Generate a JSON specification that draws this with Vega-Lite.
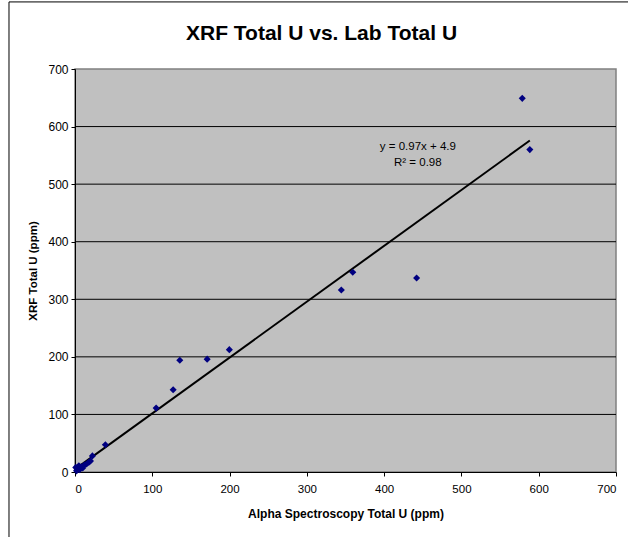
{
  "$schema": "https://vega.github.io/schema/vega-lite/v6.json",
  "width": 541,
  "height": 403,
  "autosize": "none",
  "padding": {"left": 75, "top": 69, "right": 12, "bottom": 65},
  "background": "white",
  "title": {
    "text": "XRF Total U vs. Lab Total U",
    "font": "Liberation Sans",
    "fontSize": 21,
    "fontWeight": "bold",
    "color": "black",
    "anchor": "middle",
    "dx": -24,
    "offset": -43
  },
  "config": {
    "view": {"fill": "#C0C0C0", "stroke": "#808080", "strokeWidth": 1.5},
    "axis": {
      "labelFont": "Liberation Sans",
      "labelFontSize": 12,
      "labelColor": "black",
      "titleFont": "Liberation Sans",
      "titleFontSize": 11.5,
      "titleFontWeight": "bold",
      "titleColor": "black",
      "domainColor": "black",
      "tickColor": "black",
      "tickSize": 4,
      "grid": false
    }
  },
  "datasets": {
    "points": [
      {"lab": 578.7, "xrf": 649},
      {"lab": 588.5, "xrf": 560},
      {"lab": 442, "xrf": 337},
      {"lab": 359.4, "xrf": 347},
      {"lab": 344.6, "xrf": 316},
      {"lab": 199.7, "xrf": 212.5},
      {"lab": 171, "xrf": 196},
      {"lab": 135.6, "xrf": 194},
      {"lab": 127, "xrf": 143},
      {"lab": 105, "xrf": 111},
      {"lab": 39.3, "xrf": 47.3},
      {"lab": 22.5, "xrf": 28},
      {"lab": 20, "xrf": 19},
      {"lab": 18, "xrf": 17},
      {"lab": 15, "xrf": 14},
      {"lab": 12, "xrf": 12},
      {"lab": 10, "xrf": 7},
      {"lab": 8, "xrf": 9},
      {"lab": 6, "xrf": 4},
      {"lab": 5, "xrf": 11},
      {"lab": 4, "xrf": 7},
      {"lab": 3, "xrf": 4},
      {"lab": 2, "xrf": 2},
      {"lab": 1, "xrf": 8}
    ],
    "trend": [
      {"lab": 2, "xrf": 6.8},
      {"lab": 588.5, "xrf": 575.7}
    ],
    "labels": [
      {"lab": 443.6, "xrf": 564, "text": "y = 0.97x + 4.9"},
      {"lab": 443.6, "xrf": 536.5, "text": "R² = 0.98"}
    ],
    "grid": [
      {"v": 100}, {"v": 200}, {"v": 300}, {"v": 400}, {"v": 500}, {"v": 600}
    ],
    "frame": [
      {"x1": -85.4, "x2": 760, "y1": 816.5, "y2": -200}
    ]
  },
  "layer": [
    {
      "data": {"name": "frame"},
      "mark": {"type": "rect", "fill": null, "fillOpacity": 0, "stroke": "black", "strokeWidth": 1, "clip": false},
      "encoding": {
        "x": {"field": "x1", "type": "quantitative"},
        "x2": {"field": "x2"},
        "y": {"field": "y1", "type": "quantitative"},
        "y2": {"field": "y2"}
      }
    },
    {
      "data": {"name": "grid"},
      "mark": {"type": "rule", "color": "black", "strokeWidth": 1},
      "encoding": {
        "y": {"field": "v", "type": "quantitative", "scale": {"domain": [0, 700], "nice": false}}
      }
    },
    {
      "data": {"name": "trend"},
      "mark": {"type": "line", "color": "black", "strokeWidth": 2},
      "encoding": {
        "x": {"field": "lab", "type": "quantitative"},
        "y": {"field": "xrf", "type": "quantitative"}
      }
    },
    {
      "data": {"name": "points"},
      "mark": {"type": "point", "shape": "diamond", "filled": true, "color": "#000080", "size": 50, "opacity": 1},
      "encoding": {
        "x": {
          "field": "lab",
          "type": "quantitative",
          "scale": {"domain": [0, 700], "nice": false},
          "axis": {
            "title": "Alpha Spectroscopy Total U (ppm)",
            "values": [0, 100, 200, 300, 400, 500, 600, 700],
            "labelFontSize": 11.5,
            "labelPadding": 7,
            "titleFontSize": 12,
            "titlePadding": 14
          }
        },
        "y": {
          "field": "xrf",
          "type": "quantitative",
          "scale": {"domain": [0, 700], "nice": false},
          "axis": {
            "title": "XRF Total U (ppm)",
            "values": [0, 100, 200, 300, 400, 500, 600, 700],
            "labelPadding": 3,
            "titlePadding": 9
          }
        }
      }
    },
    {
      "data": {"name": "labels"},
      "mark": {"type": "text", "font": "Liberation Sans", "fontSize": 11.5, "color": "black", "align": "center", "baseline": "middle"},
      "encoding": {
        "x": {"field": "lab", "type": "quantitative"},
        "y": {"field": "xrf", "type": "quantitative"},
        "text": {"field": "text"}
      }
    }
  ]
}
